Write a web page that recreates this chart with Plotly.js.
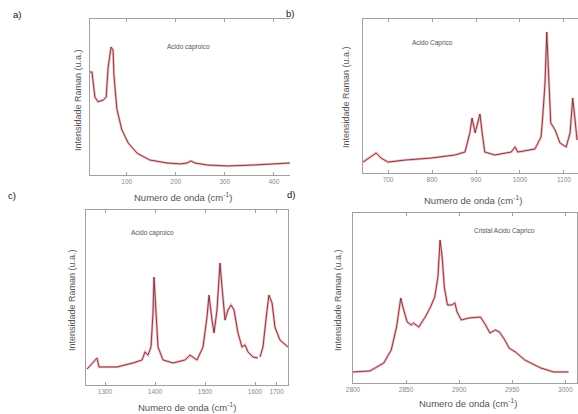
<!DOCTYPE html>
<html><head><meta charset="utf-8">
<script src="https://cdn.plot.ly/plotly-3.0.1.min.js"></script>
<style>html,body{margin:0;padding:0;background:#fff}#chart{width:578px;height:414px}</style>
</head><body><div id="chart"></div>
<script>
// Panel a) low-wavenumber spectrum
const aWave = [25,29,35,41,52,58,62,68,72,74,80,90,103,121,147,182,209,223,231,239,264,305,358,433];
const aInt  = [66,66,50,47,48,50,69,82,80,63,42,29,20.5,14,9.6,7.7,7.1,7.7,9,7.7,6.4,5.8,6.4,7.7];
// Panel b)
const bWave = [643,673,684,700,739,798,852,875,886,891,898,902,909,914,920,943,980,989,995,1034,1048,1052,1057,1061,1066,1070,1080,1091,1105,1114,1120,1125,1130];
const bInt  = [7.1,13,9.7,7.1,8.4,9.7,11.7,13.6,26,35.7,26,29.9,38.3,26,13.6,11.7,13.6,16.9,13.6,15.6,23.4,37.7,58.4,91.6,58.4,32.5,27.9,19.5,16.9,26,48.7,36.4,21.4];
// Panel c) two segments (broken axis)
const cWave1 = [1264,1284,1288,1324,1356,1374,1380,1386,1392,1396,1398,1402,1406,1416,1436,1460,1470,1484,1496,1504,1508,1514,1518,1524,1530,1534,1540,1546,1552,1558,1566,1574,1580,1586,1596,1606];
const cInt1  = [9.1,15.4,10.3,10.3,12.6,14.3,18.9,17.1,21.7,41.1,61.7,42.9,21.7,14.3,12.6,14.3,17.1,14.3,21.7,38.9,51.4,37.1,29.7,42.9,69.7,56,37.1,42.9,45.7,42.9,29.7,21.7,22.9,18.9,16,15.4];
const cWave2 = [1620,1634,1654,1663,1678,1692,1716,1755];
const cInt2  = [16,21.7,42.9,51.4,46.9,33.1,25.7,21.7];
// Panel d)
const dWave = [2800,2816,2829,2836,2841,2844,2845,2847,2851,2855,2857,2862,2868,2873,2877,2880,2882,2884,2886,2889,2893,2896,2898,2902,2909,2920,2925,2929,2934,2938,2943,2947,2953,2962,2977,2989,3003];
const dInt  = [6.5,7.1,11.8,19.4,32.9,47.1,50,44.7,35.9,34.1,35.3,32.9,38.8,44.7,50.6,62.4,84.1,74.1,56.5,45.9,45.9,47.1,41.8,37.1,38.2,38.8,34.1,29.4,31.2,30,25.3,20.6,18.2,13.5,8.8,6.5,6.5];

const xTitle = "Numero de onda (cm<sup>-1</sup>)";
const yTitle = "Intensidade Raman (u.a.)";
const labels = ["Acido caproico","Acido Caprico","Acido caproico","Cristal Acido Caprico"];
const panelTags = ["a)","b)","c)","d)"];

const W = 578, H = 414;
const px = x => x / W, py = y => 1 - y / H;

function pair(x, y, xa, ya) {
  return [
    {x, y, xaxis: xa, yaxis: ya, mode: 'lines', line: {color: 'rgba(230,80,95,0.4)', width: 2.6}, hoverinfo: 'skip'},
    {x, y, xaxis: xa, yaxis: ya, mode: 'lines', line: {color: '#76303a', width: 0.9}}
  ];
}
const data = [].concat(
  pair(aWave, aInt, 'x', 'y'),
  pair(bWave, bInt, 'x2', 'y2'),
  pair(cWave1, cInt1, 'x3', 'y3'),
  pair(cWave2, cInt2, 'x5', 'y5'),
  pair(dWave, dInt, 'x4', 'y4')
);

const lc = '#a0a0a0';
function xa(dom, range, anchor, extra) {
  return Object.assign({domain: dom, range, anchor, showline: true, linecolor: lc, linewidth: 1,
    mirror: 'ticks', ticks: 'inside', ticklen: 3, tickcolor: lc, showgrid: false, zeroline: false,
    tickfont: {family: 'Liberation Sans, Arial', size: 6.5, color: '#888'}}, extra || {});
}
function ya(dom, anchor, extra) {
  return Object.assign({domain: dom, range: [0, 100], anchor, showline: true, linecolor: lc, linewidth: 1,
    mirror: true, ticks: '', showticklabels: false, showgrid: false, zeroline: false}, extra || {});
}

const layout = {
  width: W, height: H, margin: {l: 0, r: 0, t: 0, b: 0},
  paper_bgcolor: '#fff', plot_bgcolor: '#fff', showlegend: false,
  xaxis:  xa([px(90), px(290)], [25, 433], 'y', {dtick: 100, tick0: 0}),
  yaxis:  ya([py(175), py(19)], 'x', {mirror: false}),
  xaxis2: xa([px(363), 1], [643, 1132], 'y2', {dtick: 100, tick0: 0}),
  yaxis2: ya([py(173), py(19)], 'x2'),
  xaxis3: xa([px(86), px(259)], [1262, 1608], 'y3', {dtick: 100, tick0: 0}),
  yaxis3: ya([py(385), py(210)], 'x3', {mirror: false}),
  xaxis5: xa([px(259), px(288)], [1615, 1755], 'y5', {tickvals: [1700]}),
  yaxis5: ya([py(385), py(210)], 'x5', {side: 'right', mirror: false}),
  xaxis4: xa([px(353), px(577)], [2800, 3011], 'y4', {dtick: 50, tick0: 0}),
  yaxis4: ya([py(383), py(213)], 'x4'),
  annotations: []
};

const ann = layout.annotations;
const f = (s, c) => ({family: 'Liberation Sans, Arial', size: s, color: c});
[[17,14],[290,13],[12,195],[291,194]].forEach((p, i) =>
  ann.push({xref:'paper', yref:'paper', x:px(p[0]), y:py(p[1]), text: panelTags[i], showarrow:false, font:f(9.5,'#111'), xanchor:'center', yanchor:'middle'}));
[[188,47],[432,43],[152,233],[504,231]].forEach((p, i) =>
  ann.push({xref:'paper', yref:'paper', x:px(p[0]), y:py(p[1]), text: labels[i], showarrow:false, font:f(6.5,'#555'), xanchor:'center', yanchor:'middle'}));
[[183,197],[473,200],[187,407],[468,403]].forEach(p =>
  ann.push({xref:'paper', yref:'paper', x:px(p[0]), y:py(p[1]), text: xTitle, showarrow:false, font:f(9.5,'#555'), xanchor:'center', yanchor:'middle'}));
[[78,100],[346,97],[72,300],[338,300]].forEach(p =>
  ann.push({xref:'paper', yref:'paper', x:px(p[0]), y:py(p[1]), text: yTitle, textangle:-90, showarrow:false, font:f(9,'#555'), xanchor:'center', yanchor:'middle'}));

Plotly.newPlot('chart', data, layout, {staticPlot: true, displayModeBar: false});
</script></body></html>
